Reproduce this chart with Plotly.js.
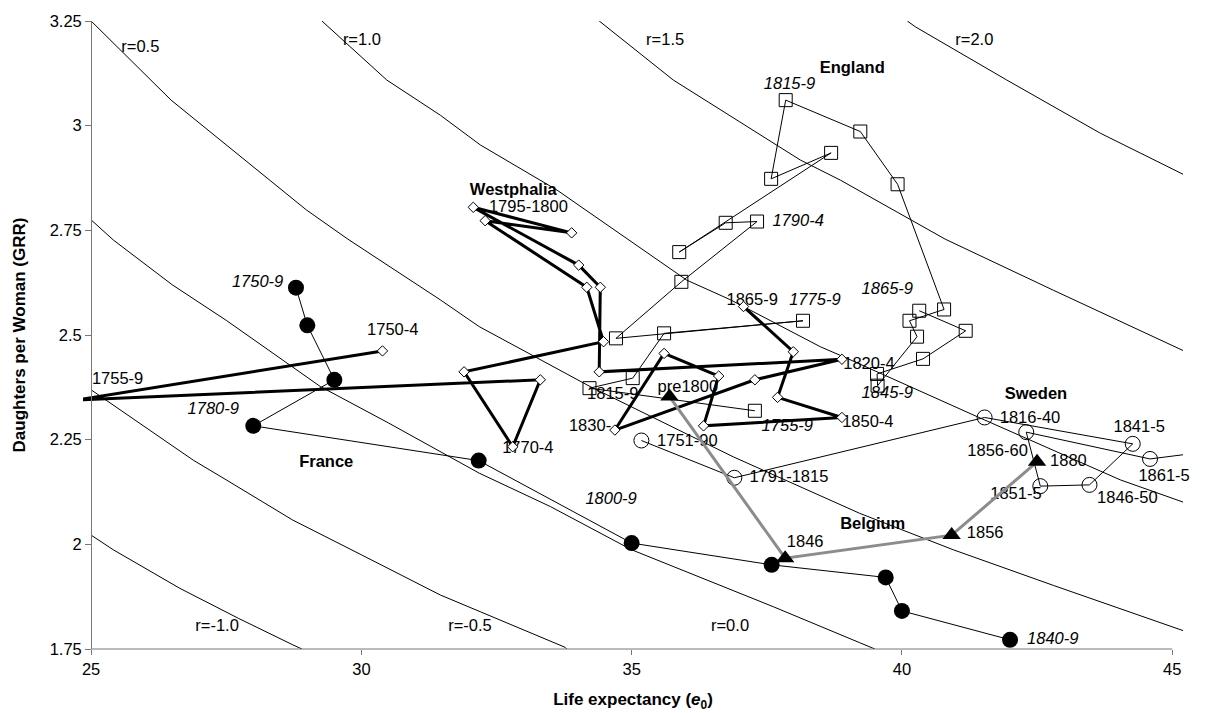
<!DOCTYPE html>
<html>
<head>
<meta charset="utf-8">
<script src="https://cdn.plot.ly/plotly-3.0.1.min.js"></script>
<style>html,body{margin:0;padding:0;background:#fff;}#chart{width:1205px;height:713px;}</style>
</head>
<body>
<div id="chart"></div>
<script>
// ---- iso-growth-rate curves (r, % per year) ----
const rM10_x = [25, 25.41, 26.64, 27.73, 28.73, 28.9];
const rM10_y = [2.022, 1.987, 1.895, 1.823, 1.760, 1.75];
const rM05_x = [25, 26.89, 27.5, 28.73, 30.0, 31.46, 32.20, 33.77, 33.8];
const rM05_y = [2.369, 2.201, 2.154, 2.058, 1.975, 1.879, 1.839, 1.754, 1.75];
const r00_x = [25, 25.41, 26.5, 27.5, 29.24, 30.5, 32.18, 33.5, 35, 36.3, 37.62, 39.22, 39.5];
const r00_y = [2.775, 2.727, 2.62, 2.535, 2.377, 2.29, 2.170, 2.09, 1.987, 1.92, 1.851, 1.765, 1.75];
const r05_x = [25, 26.48, 27.31, 28.98, 29.75, 31.46, 32.18, 34.23, 36.88, 39.22, 40.95, 42.8, 45.2];
const r05_y = [3.25, 3.061, 2.974, 2.799, 2.729, 2.584, 2.520, 2.377, 2.209, 2.074, 1.987, 1.902, 1.794];
const r10_x = [29.27, 30.47, 31.46, 32.20, 33.62, 36.02, 36.83, 38.49, 38.92, 41.39, 44.04, 45.2];
const r10_y = [3.25, 3.109, 3.025, 2.954, 2.846, 2.631, 2.584, 2.472, 2.448, 2.305, 2.154, 2.101];
const r15_x = [34.4, 35.77, 38.12, 38.86, 40.80, 42.80, 45.2];
const r15_y = [3.25, 3.109, 2.918, 2.870, 2.729, 2.607, 2.463];
const r20_x = [40.1, 40.25, 41.94, 43.67, 45.2];
const r20_y = [3.25, 3.236, 3.109, 2.982, 2.884];

const curveLabels = ['r=-1.0', 'r=-0.5', 'r=0.0', 'r=0.5', 'r=1.0', 'r=1.5', 'r=2.0'];
const curveLabel_x = [27.33, 32.01, 36.82, 25.91, 30.01, 35.62, 41.34];
const curveLabel_y = [1.803, 1.803, 1.803, 3.186, 3.203, 3.203, 3.203];

// ---- country trajectories: life expectancy (e0) and GRR ----
const france_e0 = [28.79, 29.0, 29.50, 28.0, 32.17, 35.0, 37.59, 39.70, 40.0, 42.0];
const france_grr = [2.613, 2.523, 2.393, 2.283, 2.20, 2.003, 1.951, 1.921, 1.841, 1.772];

const westphalia_e0 = [30.39, 24.75, 33.31, 32.80, 31.90, 34.48, 34.17, 32.29, 33.89, 32.07, 34.02, 34.42, 34.40,
                       38.89, 37.28, 34.69, 35.60, 36.61, 36.33, 38.89, 37.70, 37.99, 37.07];
const westphalia_grr = [2.462, 2.345, 2.393, 2.233, 2.412, 2.484, 2.614, 2.773, 2.744, 2.805, 2.667, 2.614, 2.412,
                        2.442, 2.393, 2.273, 2.456, 2.402, 2.283, 2.303, 2.351, 2.460, 2.568];

const england_e0 = [37.28, 34.22, 35.02, 35.60, 38.17, 34.71, 35.92, 37.32, 36.74, 35.88, 38.69, 37.58, 37.85,
                    39.23, 39.92, 40.78, 40.14, 40.28, 39.55, 39.54, 40.39, 41.18, 40.32];
const england_grr = [2.319, 2.373, 2.397, 2.504, 2.534, 2.492, 2.627, 2.771, 2.768, 2.698, 2.935, 2.873, 3.061,
                     2.986, 2.860, 2.561, 2.534, 2.496, 2.379, 2.407, 2.443, 2.510, 2.558];

const sweden_e0 = [35.18, 36.90, 41.53, 44.27, 43.47, 42.56, 42.30, 44.59, 46.0];
const sweden_grr = [2.248, 2.159, 2.303, 2.240, 2.142, 2.139, 2.268, 2.204, 2.227];

const belgium_e0 = [35.70, 37.84, 40.92, 42.50];
const belgium_grr = [2.353, 1.967, 2.022, 2.197];

// ---- period labels ----
const regLabels = ['1750-4', '1755-9', '1770-4', '1795-1800', '1815-9', '1820-4', '1830-', '1850-4', '1865-9',
                   '1751-90', '1791-1815', '1816-40', '1841-5', '1856-60', '1861-5', '1851-5', '1846-50',
                   'pre1800', '1846', '1856', '1880'];
const regLabel_x = [30.58, 25.49, 33.08, 33.09, 34.65, 39.39, 34.23, 39.37, 37.23,
                    36.03, 37.91, 42.37, 44.39, 41.77, 44.85, 42.11, 44.17,
                    36.04, 38.21, 41.54, 43.08];
const regLabel_y = [2.510, 2.394, 2.227, 2.803, 2.357, 2.428, 2.280, 2.289, 2.582,
                    2.245, 2.158, 2.299, 2.277, 2.220, 2.160, 2.118, 2.108,
                    2.373, 2.003, 2.025, 2.197];

const itLabels = ['1750-9', '1780-9', '1800-9', '1840-9', '1815-9', '1790-4', '1775-9', '1755-9', '1865-9', '1845-9'];
const itLabel_x = [28.08, 27.26, 34.62, 42.79, 37.92, 38.08, 38.39, 37.88, 39.73, 39.73];
const itLabel_y = [2.624, 2.321, 2.106, 1.772, 3.097, 2.771, 2.582, 2.281, 2.608, 2.359];

const countryNames = ['Westphalia', 'England', 'France', 'Sweden', 'Belgium'];
const countryName_x = [32.81, 39.08, 29.35, 42.48, 39.46];
const countryName_y = [2.844, 3.135, 2.195, 2.357, 2.046];

const xTicks = [25, 30, 35, 40, 45];
const yTicks = [1.75, 2, 2.25, 2.5, 2.75, 3, 3.25];
const yTickText = ['1.75', '2', '2.25', '2.5', '2.75', '3', '3.25'];

// ---- build traces ----
const FONT = 'Liberation Sans, Arial, Helvetica, sans-serif';
const FS = 16.5;

function curve(x, y) {
  return {x: x, y: y, type: 'scatter', mode: 'lines', line: {color: '#000', width: 1},
          hoverinfo: 'skip', showlegend: false};
}
function labels(t, x, y, extra) {
  const f = Object.assign({family: FONT, size: FS, color: '#000'}, extra || {});
  return {x: x, y: y, text: t, type: 'scatter', mode: 'text', textposition: 'middle center',
          textfont: f, cliponaxis: false, hoverinfo: 'skip', showlegend: false};
}

const traces = [
  curve(rM10_x, rM10_y), curve(rM05_x, rM05_y), curve(r00_x, r00_y), curve(r05_x, r05_y),
  curve(r10_x, r10_y), curve(r15_x, r15_y), curve(r20_x, r20_y),
  labels(curveLabels, curveLabel_x, curveLabel_y),
  labels(regLabels, regLabel_x, regLabel_y),
  labels(itLabels, itLabel_x, itLabel_y, {style: 'italic'}),
  labels(countryNames, countryName_x, countryName_y, {weight: 'bold'}),
  {name: 'France', x: france_e0, y: france_grr, type: 'scatter', mode: 'lines+markers',
   line: {color: '#000', width: 1}, marker: {symbol: 'circle', size: 16, color: '#000'},
   hoverinfo: 'skip', showlegend: false},
  {name: 'England', x: england_e0, y: england_grr, type: 'scatter', mode: 'lines+markers',
   line: {color: '#000', width: 1}, marker: {symbol: 'square-open', size: 13, color: '#000', line: {width: 1, color: '#000'}},
   hoverinfo: 'skip', showlegend: false},
  {name: 'Westphalia', x: westphalia_e0, y: westphalia_grr, type: 'scatter', mode: 'lines+markers',
   line: {color: '#000', width: 3}, marker: {symbol: 'diamond', size: 8, color: '#fff', line: {width: 1, color: '#000'}},
   hoverinfo: 'skip', showlegend: false},
  {name: 'Sweden', x: sweden_e0, y: sweden_grr, type: 'scatter', mode: 'lines+markers',
   line: {color: '#000', width: 1}, marker: {symbol: 'circle-open', size: 15, color: '#000', line: {width: 1, color: '#000'}},
   hoverinfo: 'skip', showlegend: false},
  {name: 'Belgium', x: belgium_e0, y: belgium_grr, type: 'scatter', mode: 'lines+markers',
   line: {color: '#8c8c8c', width: 3}, marker: {symbol: 'triangle-up', size: 16, color: '#000'},
   hoverinfo: 'skip', showlegend: false}
];

const layout = {
  width: 1205, height: 713,
  margin: {l: 83, r: 22, t: 21, b: 64},
  paper_bgcolor: '#fff', plot_bgcolor: '#fff',
  showlegend: false,
  font: {family: FONT, size: FS, color: '#000'},
  xaxis: {
    range: [24.85, 45.2], tickvals: xTicks, ticktext: xTicks.map(String),
    ticks: 'outside', ticklen: 5, tickcolor: '#777', tickwidth: 1,
    showline: false, showgrid: false, zeroline: false,
    tickfont: {family: FONT, size: FS, color: '#000'},
    title: {text: '<b>Life expectancy (<i>e</i><sub>0</sub>)</b>', font: {family: FONT, size: 17, color: '#000'}, standoff: 16}
  },
  yaxis: {
    range: [1.75, 3.25], anchor: 'free', position: 0.00737,
    tickvals: yTicks, ticktext: yTickText,
    ticks: 'outside', ticklen: 6, tickcolor: '#777', tickwidth: 1,
    showline: true, linecolor: '#777', linewidth: 1,
    showgrid: false, zeroline: false,
    tickfont: {family: FONT, size: FS, color: '#000'},
    title: {text: '<b>Daughters per Woman (GRR)</b>', font: {family: FONT, size: 17, color: '#000'}, standoff: 18}
  },
  shapes: [
    {type: 'line', xref: 'x', yref: 'paper', x0: 25, x1: 45, y0: 0, y1: 0, line: {color: '#777', width: 1}}
  ]
};

Plotly.newPlot('chart', traces, layout, {staticPlot: true, displayModeBar: false});
</script>
</body>
</html>
